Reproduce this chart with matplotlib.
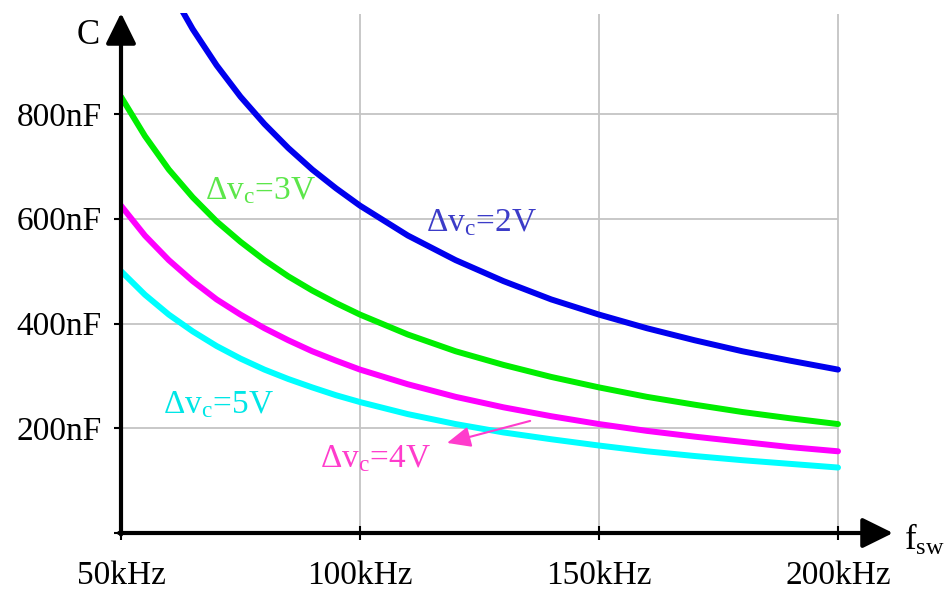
import matplotlib
matplotlib.use("Agg")
import matplotlib.pyplot as plt

plt.rcParams['font.family'] = ['Liberation Serif', 'DejaVu Serif']
plt.rcParams['mathtext.fontset'] = 'custom'
plt.rcParams['mathtext.rm'] = 'Liberation Serif'
plt.rcParams['mathtext.it'] = 'Liberation Serif:italic'

# Data (kHz, nF)
freq_khz = [50, 55, 60, 65, 70, 75, 80, 85, 90, 95, 100, 110, 120, 130, 140, 150, 160, 170, 180, 190, 200]
c_2v = [1250, 1136, 1042, 962, 893, 833, 781, 735, 694, 658, 625, 568, 521, 481, 446, 417, 391, 368, 347, 329, 312]
c_3v = [833, 758, 694, 641, 595, 556, 521, 490, 463, 439, 417, 379, 347, 321, 298, 278, 260, 245, 231, 219, 208]
c_4v = [625, 568, 521, 481, 446, 417, 391, 368, 347, 329, 312, 284, 260, 240, 223, 208, 195, 184, 174, 164, 156]
c_5v = [500, 455, 417, 385, 357, 333, 312, 294, 278, 263, 250, 227, 208, 192, 179, 167, 156, 147, 139, 132, 125]

x_ticks = [50, 100, 150, 200]
x_tick_labels = ['50kHz', '100kHz', '150kHz', '200kHz']
y_ticks = [0, 200, 400, 600, 800]
y_tick_labels = ['', '200nF', '400nF', '600nF', '800nF']

W, H = 945, 591
fig = plt.figure(figsize=(W / 100, H / 100), dpi=100)
left_px, right_px, bottom_px, top_px = 121, 893, 533, 13
ax = fig.add_axes([left_px / W, (H - bottom_px) / H, (right_px - left_px) / W, (bottom_px - top_px) / H])
xmax = 50 + (right_px - left_px) / ((838 - 121) / 150)
ymax = (bottom_px - top_px) / ((533 - 114) / 800)
ax.set_xlim(50, xmax)
ax.set_ylim(0, ymax)
for s in ax.spines.values():
    s.set_visible(False)

grid_c = '#c4c4c4'
ax.hlines(y_ticks[1:], 50, 200, color=grid_c, lw=1.3, zorder=1)
ax.vlines(x_ticks[1:], 0, ymax * 0.998, color=grid_c, lw=1.3, zorder=1)

lw = 4.3
ax.plot(freq_khz, c_2v, color='#0000ee', lw=lw, solid_capstyle='round', solid_joinstyle='round', zorder=3)
ax.plot(freq_khz, c_3v, color='#00ee00', lw=lw, solid_capstyle='round', solid_joinstyle='round', zorder=3)
ax.plot(freq_khz, c_4v, color='#ff00ff', lw=lw, solid_capstyle='round', solid_joinstyle='round', zorder=3)
ax.plot(freq_khz, c_5v, color='#00ffff', lw=lw, solid_capstyle='round', solid_joinstyle='round', zorder=3)

# axes with arrows
arrow_style = '-|>,head_length=0.85,head_width=0.42'
ax.annotate('', xy=(50, ymax), xytext=(50, -3), xycoords='data',
            arrowprops=dict(arrowstyle=arrow_style, lw=3, color='black', mutation_scale=22,
                            shrinkA=0, shrinkB=0), annotation_clip=False, zorder=5)
ax.annotate('', xy=(xmax, 0), xytext=(49.6, 0), xycoords='data',
            arrowprops=dict(arrowstyle=arrow_style, lw=3, color='black', mutation_scale=22,
                            shrinkA=0, shrinkB=0), annotation_clip=False, zorder=5)

fs = 24
ax.set_xticks(x_ticks)
ax.set_xticklabels(x_tick_labels, fontsize=fs)
ax.set_yticks(y_ticks)
ax.set_yticklabels(y_tick_labels, fontsize=fs)
ax.tick_params(axis='x', direction='inout', length=10, width=1.5, pad=15)
ax.tick_params(axis='y', direction='out', length=5, width=1.5, pad=9)

ax.text(50 - (121 - 88) / 4.78, (533 - 36) / 0.52375, 'C', fontsize=fs + 1, ha='center', va='center')
ax.text(200 + (904 - 838) / 4.78, (533 - 540) / 0.52375, r'f$_{\mathrm{sw}}$', fontsize=fs + 1,
        ha='left', va='center', clip_on=False)

ax.text(79.1, 653, r'Δv$_{\mathrm{c}}$=3V', fontsize=fs, color='#5ce64a', ha='center', va='center')
ax.text(125.3, 592, r'Δv$_{\mathrm{c}}$=2V', fontsize=fs, color='#3c3cc8', ha='center', va='center')
ax.text(70.3, 244, r'Δv$_{\mathrm{c}}$=5V', fontsize=fs, color='#00e6e6', ha='center', va='center')
ax.text(103.3, 141, r'Δv$_{\mathrm{c}}$=4V', fontsize=fs, color='#ff3ccc', ha='center', va='center')
ax.annotate('', xy=(118.2, 172), xytext=(135.6, 214),
            arrowprops=dict(arrowstyle='-|>,head_length=0.8,head_width=0.35', lw=1.5,
                            color='#ff3ccc', mutation_scale=18, shrinkA=0, shrinkB=0), zorder=4)

fig.savefig('out.png', dpi=100)
